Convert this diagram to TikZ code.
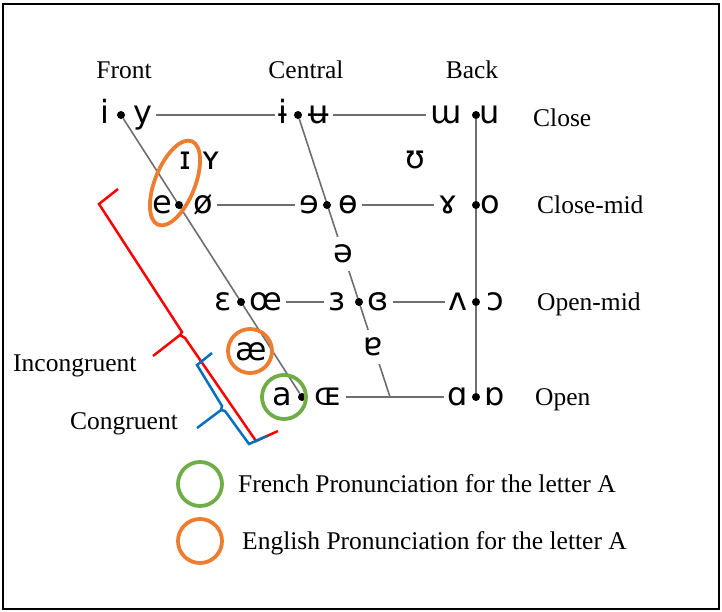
\documentclass[tikz,border=0pt]{standalone}
\usepackage{fontspec}
\setmainfont{Liberation Serif}
\newfontfamily\ipafont{DejaVu Sans}
\usetikzlibrary{shapes.geometric,backgrounds}
\definecolor{lineg}{RGB}{110,110,110}
\definecolor{orng}{RGB}{237,125,49}
\definecolor{grn}{RGB}{112,173,71}
\definecolor{bl}{RGB}{0,112,192}
\definecolor{rd}{RGB}{255,0,0}
\begin{document}
\begin{tikzpicture}[x=1pt,y=-1pt,
  ipa/.style={font=\fontsize{32}{32}\ipafont, inner sep=0pt, outer sep=4pt, text height=17.5pt, text depth=0pt},
  gapipa/.style={ipa, fill=white, inner xsep=2pt, inner ysep=8pt, outer sep=0pt},
  vdot/.style={circle, fill=black, inner sep=0pt, minimum size=8pt},
  lbl/.style={font=\fontsize{25.5}{28}\selectfont, inner sep=0pt, text height=17pt, text depth=0pt},
  conn/.style={draw=lineg, line width=1.6pt},
  ring/.style={draw, line width=3.8pt, circle, minimum size=44pt, inner sep=0pt},
  brk/.style={line width=2.5pt, line join=miter},
]
\useasboundingbox (0,0) rectangle (722,612);
\draw[line width=2pt] (3,4) rectangle (719,609);

% column and row labels
\node[lbl] (front) at (124,70) {Front};
\node[lbl] (central) at (306,70) {Central};
\node[lbl] (back) at (472,70) {Back};
\node[lbl,anchor=west] (close) at (533,118) {Close};
\node[lbl,anchor=west] (closemid) at (537,205) {Close-mid};
\node[lbl,anchor=west] (openmid) at (537,302) {Open-mid};
\node[lbl,anchor=west] (open) at (535,397) {Open};

% close row
\node[ipa] (i) at (105,115) {i};
\node[vdot] (d11) at (121,115) {};
\node[ipa] (y) at (143,115) {y};
\node[ipa] (ibar) at (283,115) {ɨ};
\node[vdot] (d12) at (298,115) {};
\node[ipa] (ubar) at (319,115) {ʉ};
\node[ipa] (turnm) at (446,115) {ɯ};
\node[vdot] (d13) at (476,115) {};
\node[ipa] (u) at (490,115) {u};

% near-close
\node[ipa] (smallI) at (185,161) {ɪ};
\node[ipa] (smallY) at (211,161) {ʏ};
\node[ipa] (upsilon) at (415,160) {ʊ};

% close-mid row
\node[ipa] (e) at (162,205) {e};
\node[vdot] (d21) at (179,205) {};
\node[ipa] (oslash) at (203,205) {ø};
\node[ipa] (reve) at (309,205) {ɘ};
\node[vdot] (d22) at (327,205) {};
\node[ipa] (barredo) at (348,205) {ɵ};
\node[ipa] (ramshorn) at (448,205) {ɤ};
\node[vdot] (d23) at (476,205) {};
\node[ipa] (o) at (490,205) {o};

% mid
\node[gapipa] (schwa) at (343,254) {ə};

% open-mid row
\node[ipa] (epsilon) at (223,302) {ɛ};
\node[vdot] (d31) at (241,302) {};
\node[ipa] (oe) at (266,302) {œ};
\node[ipa] (revepsilon) at (337,302) {ɜ};
\node[vdot] (d32) at (359,302) {};
\node[ipa] (closedrev) at (378,302) {ɞ};
\node[ipa] (turnv) at (458,302) {ʌ};
\node[vdot] (d33) at (476,302) {};
\node[ipa] (openo) at (495,302) {ɔ};

% near-open
\node[ipa] (ash) at (251,352) {æ};
\node[gapipa] (turna) at (373,347) {ɐ};

% open row
\node[ipa] (a) at (282,397) {a};
\node[vdot] (d41) at (302,397) {};
\node[ipa] (OE) at (328,397) {ɶ};
\coordinate (junc) at (390,397);
\node[ipa] (scripta) at (458,397) {ɑ};
\node[vdot] (d43) at (476,397) {};
\node[ipa] (turnscripta) at (495,397) {ɒ};

\begin{pgfonlayer}{background}
  \draw[conn] (d11) -- (d41);
  \draw[conn] (d12) -- (junc);
  \draw[conn] (d13) -- (d43);
  \draw[conn] (y) -- (ibar);
  \draw[conn] (ubar) -- (turnm);
  \draw[conn] (oslash) -- (reve);
  \draw[conn] (barredo) -- (ramshorn);
  \draw[conn] (oe) -- (revepsilon);
  \draw[conn] (closedrev) -- (turnv);
  \draw[conn] (OE) -- (scripta);
\end{pgfonlayer}

% highlight rings
\node[ring, draw=orng, ellipse, minimum width=40pt, minimum height=90pt, rotate=-22] (ringE) at (175,183) {};
\node[ring, draw=orng] (ringAsh) at (250,351) {};
\node[ring, draw=grn] (ringA) at (284,397) {};

% brackets
\coordinate (rtip) at (180,335);
\coordinate (rend) at (153,356);
\coordinate (btip) at (221,410);
\coordinate (bend) at (197,428);
\draw[brk, draw=rd] (118,189) -- (99,204) -- (182,332) -- (rtip) -- (185,338) -- (256,441) -- (278,431);
\draw[brk, draw=rd] (rtip) -- (rend);
\draw[brk, draw=bl] (212,353) -- (197,365) -- (222,406) -- (btip) -- (225,411) -- (249,444) -- (267,436);
\draw[brk, draw=bl] (btip) -- (bend);
\node[lbl,anchor=west] (incong) at (13,363) {Incongruent};
\node[lbl,anchor=west] (cong) at (70,421) {Congruent};

% legend
\node[ring, draw=grn] (legG) at (200,484) {};
\node[ring, draw=orng] (legO) at (200,541) {};
\node[lbl,anchor=west] (frenchlbl) at (238,484) {French Pronunciation for the letter A};
\node[lbl,anchor=west] (englishlbl) at (242,541) {English Pronunciation for the letter A};
\end{tikzpicture}
\end{document}
